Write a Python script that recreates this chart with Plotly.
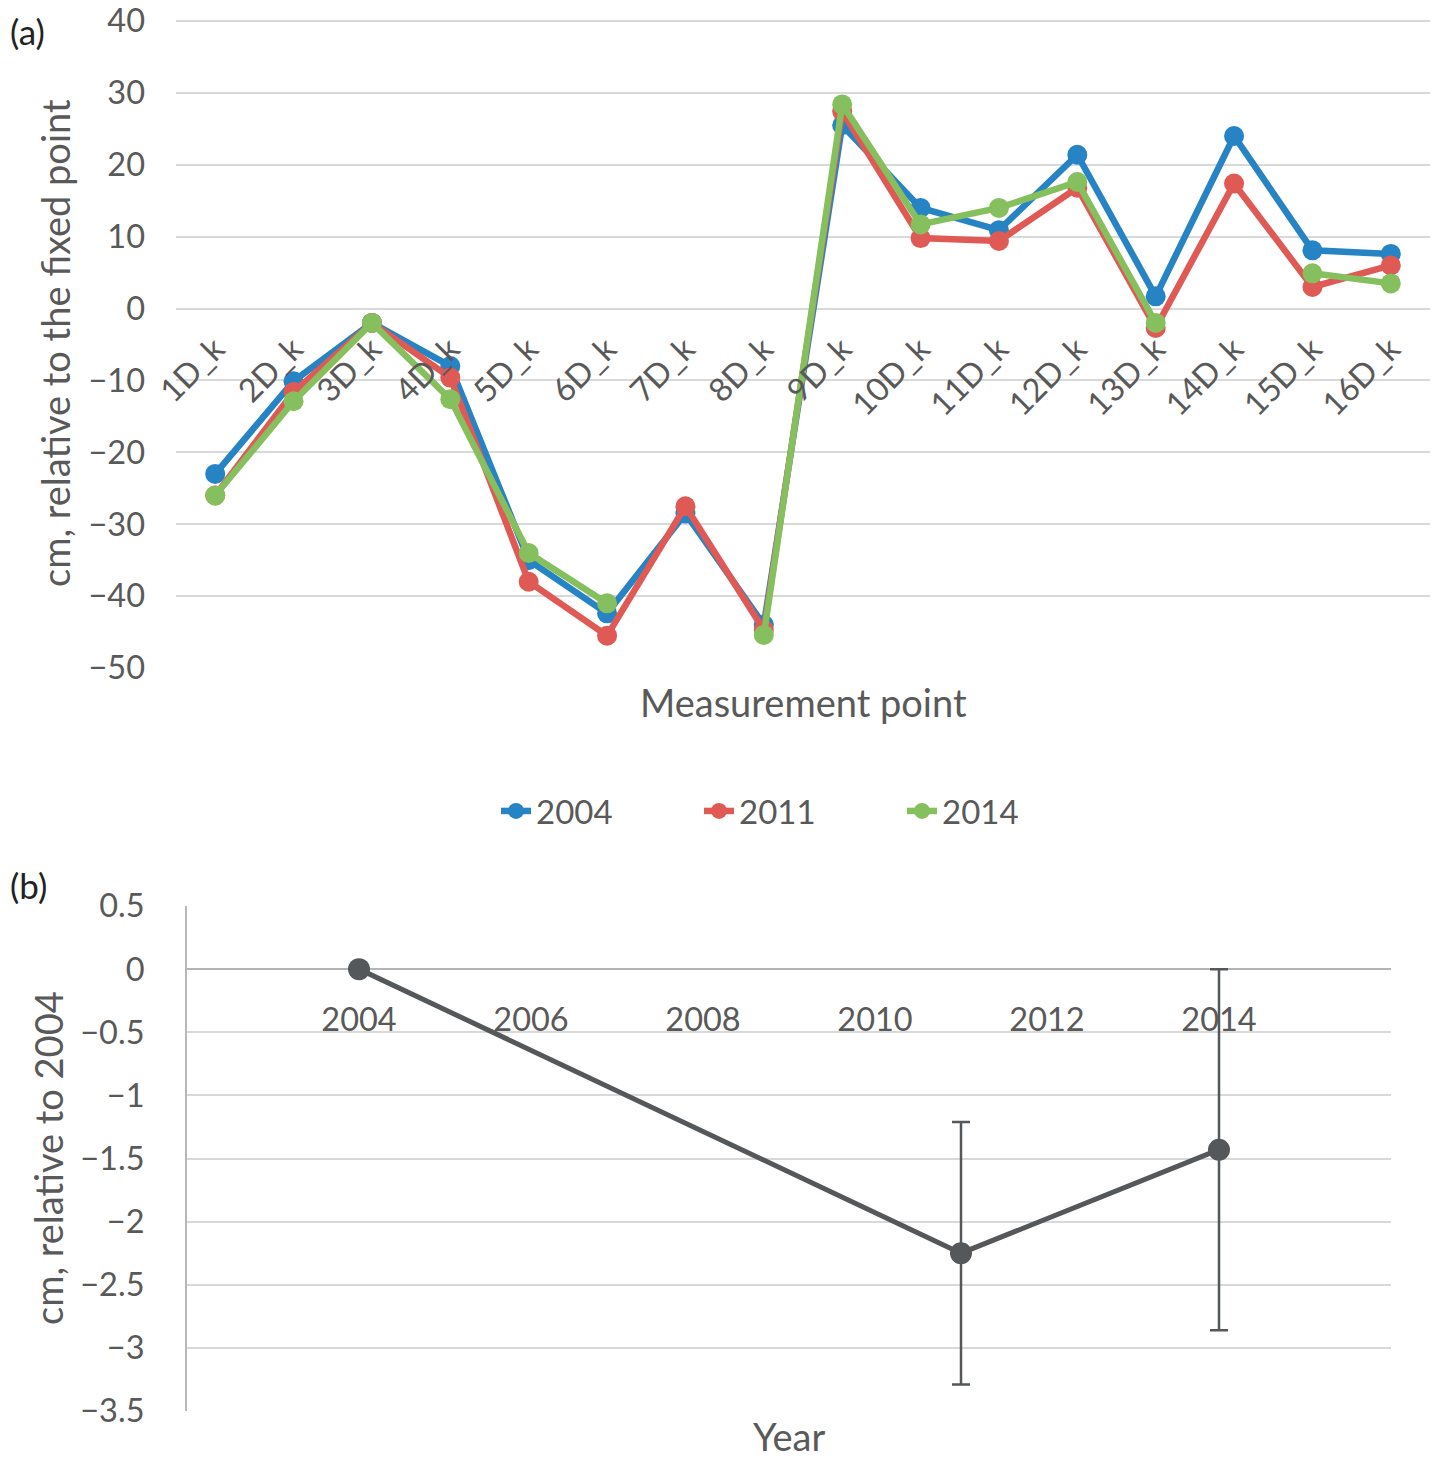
"""Survey levels at the measurement points (a) and mean change since 2004 (b)."""

import plotly.graph_objects as go

POINTS = [f"{i}D_k" for i in range(1, 17)]
LEVEL_2004 = [-23.0, -10.1, -2.0, -8.0, -35.0, -42.4, -28.5, -44.0,
              25.5, 14.0, 10.9, 21.4, 1.7, 24.0, 8.1, 7.6]
LEVEL_2011 = [-26.0, -11.6, -2.0, -9.6, -38.0, -45.5, -27.5, -44.7,
              27.4, 9.8, 9.4, 16.8, -2.7, 17.4, 3.0, 6.0]
LEVEL_2014 = [-26.0, -12.9, -2.0, -12.6, -34.0, -41.0, None, -45.4,
              28.4, 11.7, 14.0, 17.6, -2.0, None, 4.9, 3.5]

YEARS = [2004, 2011, 2014]
CHANGE = [0.0, -2.25, -1.43]
CHANGE_ERR = [0.0, 1.04, 1.43]
YEAR_TICKS = [2004, 2006, 2008, 2010, 2012, 2014]

FONT = "Lato"
TEXT = "#595959"
GRID = "#d9d9d9"
COLORS = {"2004": "#2683c4", "2011": "#e05a55", "2014": "#86bf5d"}
DARK = "#54585a"

# the page body adds an 8px margin, so the figure is a bit smaller than the window
OFF = 8
W, H = 1440 - 2 * OFF, 1466 - 2 * OFF


def px_x(p):
    return (p - OFF) / W


def px_y(p):
    return 1 - (p - OFF) / H


fig = go.Figure()

for name, vals in [("2004", LEVEL_2004), ("2011", LEVEL_2011), ("2014", LEVEL_2014)]:
    fig.add_trace(go.Scatter(
        x=POINTS, y=vals, name=name, mode="lines+markers",
        line=dict(color=COLORS[name], width=6.5),
        marker=dict(size=20, color=COLORS[name]),
        connectgaps=False, xaxis="x", yaxis="y",
    ))

fig.add_trace(go.Scatter(
    x=YEARS, y=CHANGE, mode="lines+markers", showlegend=False,
    line=dict(color=DARK, width=5),
    marker=dict(size=22, color=DARK),
    error_y=dict(type="data", array=CHANGE_ERR,
                 color=DARK, thickness=2.5, width=9),
    xaxis="x2", yaxis="y2",
))

# top panel geometry: 40 at y=21px (kept clear of the page edge), -50 at y=668px;
# a little headroom above 40 so its gridline is not dropped at the plot edge
top40, bot50 = 21, 668
px_per_cm = (bot50 - top40) / 90
y1_range = [-50, 40.4]
y1_dom = [px_y(bot50), px_y(top40 - 0.4 * px_per_cm)]
x1_pos = y1_dom[0] + (0 - y1_range[0]) / (y1_range[1] - y1_range[0]) * (y1_dom[1] - y1_dom[0])

# bottom panel geometry
y2_dom = [px_y(1411), px_y(906)]
y2_range = [-3.5, 0.5]
x2_pos = y2_dom[0] + (0 - y2_range[0]) / (y2_range[1] - y2_range[0]) * (y2_dom[1] - y2_dom[0])

tick_font = dict(family=FONT, size=32.5, color=TEXT)
title_font = dict(family=FONT, size=38, color=TEXT)

fig.update_layout(
    width=W, height=H,
    margin=dict(l=0, r=0, t=0, b=0),
    paper_bgcolor="white", plot_bgcolor="white",
    font=dict(family=FONT, size=33, color=TEXT),
    showlegend=True,
    legend=dict(orientation="h", x=px_x(496), xanchor="left", y=px_y(811), yanchor="middle",
                font=dict(family=FONT, size=33, color=TEXT),
                entrywidth=158, entrywidthmode="pixels", traceorder="normal"),
    xaxis=dict(
        domain=[px_x(176), px_x(1430)], anchor="free", position=x1_pos,
        type="category", range=[-0.5, 15.5], showgrid=False, showline=False,
        zeroline=False, tickangle=-45, tickfont=tick_font, ticks="",
        ticklabelstandoff=14, automargin=False, ticklabeloverflow="allow",
    ),
    yaxis=dict(
        domain=y1_dom, range=y1_range, tickvals=list(range(-50, 41, 10)),
        showgrid=True, gridcolor=GRID, gridwidth=2, zeroline=True,
        zerolinecolor=GRID, zerolinewidth=2, showline=False, ticks="",
        tickfont=tick_font, ticklabelstandoff=30, automargin=False, anchor="x",
        ticklabeloverflow="allow",
    ),
    xaxis2=dict(
        domain=[px_x(187), px_x(1391)], anchor="free", position=x2_pos,
        range=[2002, 2016], tickvals=YEAR_TICKS, showgrid=False,
        showline=False, zeroline=False, ticks="", tickfont=tick_font,
        ticklabelstandoff=28, automargin=False, ticklabeloverflow="allow",
    ),
    yaxis2=dict(
        domain=y2_dom, range=y2_range, dtick=0.5, showgrid=True,
        gridcolor=GRID, gridwidth=2, zeroline=True, zerolinecolor="#b4b4b4",
        zerolinewidth=2, showline=True, linecolor="#b8b8b8", linewidth=2,
        ticks="", tickfont=tick_font, ticklabelstandoff=34,
        automargin=False, anchor="x2", ticklabeloverflow="allow",
    ),
    annotations=[
        dict(text="(a)", x=0, y=px_y(31), xref="paper", yref="paper",
             xanchor="left", yanchor="middle", showarrow=False,
             font=dict(family=FONT, size=35, color="#222222")),
        dict(text="(b)", x=0, y=px_y(885), xref="paper", yref="paper",
             xanchor="left", yanchor="middle", showarrow=False,
             font=dict(family=FONT, size=35, color="#222222")),
        dict(text="cm, relative to the fixed point", x=px_x(55), y=px_y(343),
             xref="paper", yref="paper", xanchor="center", yanchor="middle",
             textangle=-90, showarrow=False, font=title_font),
        dict(text="Measurement point", x=px_x(803), y=px_y(702),
             xref="paper", yref="paper", xanchor="center", yanchor="middle",
             showarrow=False, font=title_font),
        dict(text="cm, relative to 2004", x=px_x(48), y=px_y(1158),
             xref="paper", yref="paper", xanchor="center", yanchor="middle",
             textangle=-90, showarrow=False, font=title_font),
        dict(text="Year", x=px_x(789), y=px_y(1436),
             xref="paper", yref="paper", xanchor="center", yanchor="middle",
             showarrow=False, font=title_font),
    ],
)

fig.write_html("out.html")
